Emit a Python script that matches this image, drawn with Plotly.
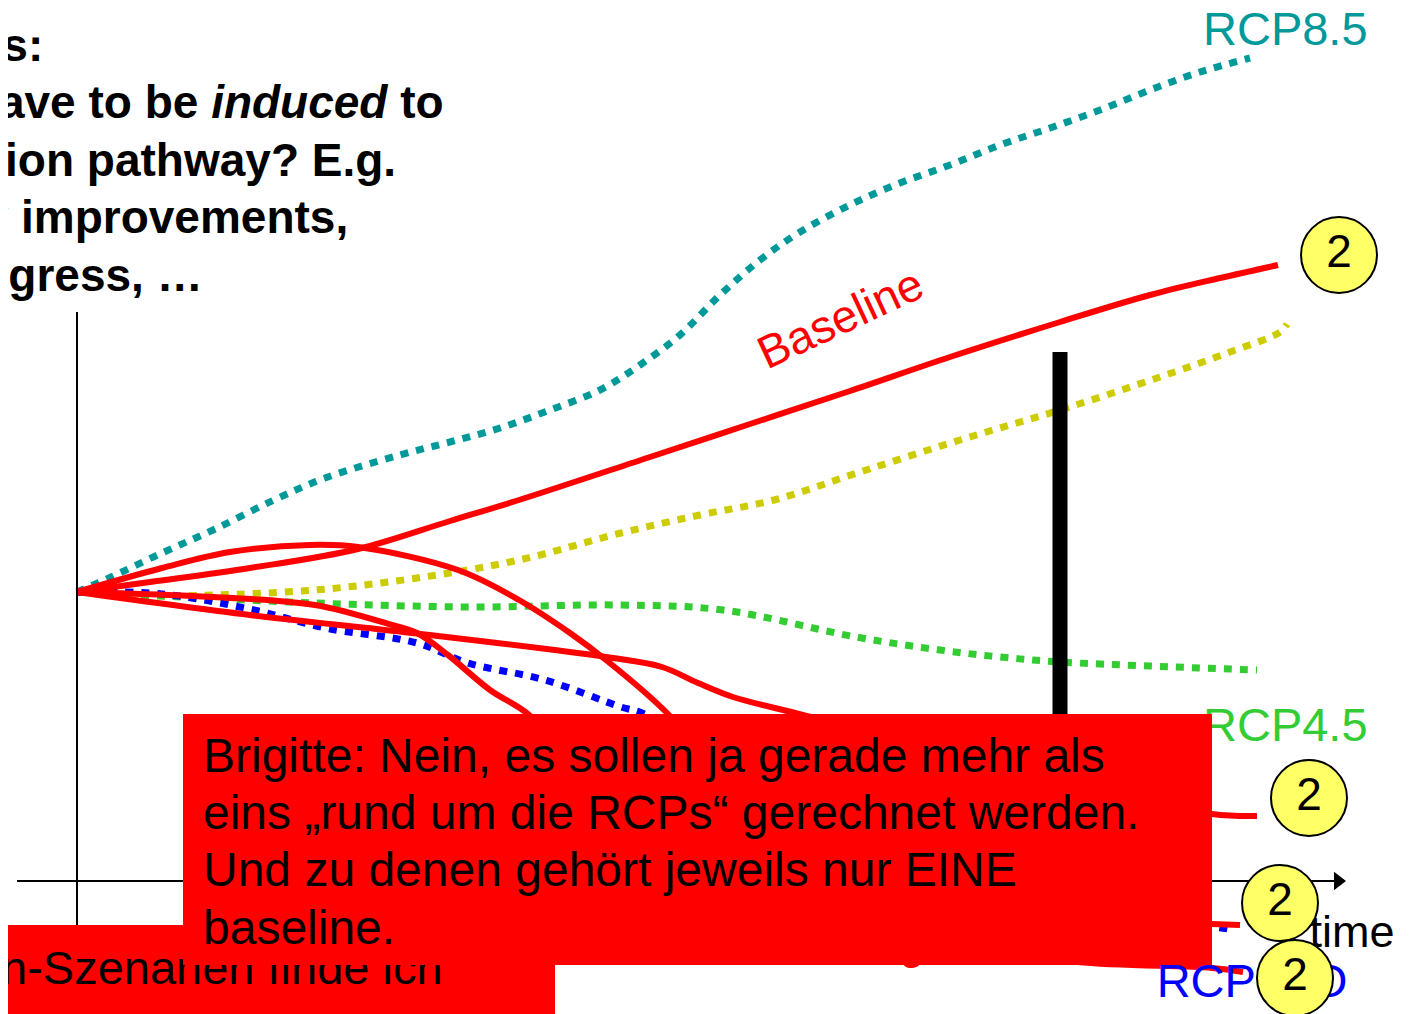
import plotly.graph_objects as go

# --- curves (x = time, y = emissions, slide units, y grows downward)
RCP85_X = [77, 111, 162, 213, 274, 325, 400, 450, 500, 550, 600, 640, 680, 720, 760, 800, 850, 900, 950, 1000, 1050, 1100, 1150, 1200, 1250]
RCP85_Y = [592, 577, 553, 530, 500, 478, 455, 442, 428, 410, 390, 365, 335, 295, 260, 232, 205, 183, 165, 145, 128, 110, 90, 72, 58]

YELLOW_X = [77, 160, 213, 315, 417, 519, 621, 700, 774, 860, 960, 1060, 1160, 1230, 1280, 1287]
YELLOW_Y = [592, 596, 595, 590, 578, 560, 533, 515, 500, 472, 440, 410, 377, 352, 332, 324]

RCP45_X = [77, 162, 315, 468, 621, 723, 856, 940, 1000, 1060, 1150, 1257]
RCP45_Y = [592, 596, 603, 607, 605, 610, 637, 650, 657, 662, 666, 670]

RCP3PD_X = [77, 162, 254, 325, 417, 468, 545, 621, 642, 800, 1000, 1150, 1235]
RCP3PD_Y = [592, 594, 610, 628, 643, 663, 680, 707, 713, 790, 870, 915, 930]

BASE_X = [77, 150, 250, 358, 450, 519, 650, 750, 850, 950, 1060, 1150, 1220, 1278]
BASE_Y = [592, 582, 568, 549, 521, 500, 457, 424, 391, 357, 322, 295, 278, 265]

MIT_A_X = [77, 162, 230, 310, 358, 458, 519, 570, 606, 667, 760, 860, 960, 1077, 1212, 1243]
MIT_A_Y = [592, 568, 552, 545, 547, 570, 600, 633, 660, 713, 820, 910, 945, 962, 968, 972]

MIT_B_X = [77, 213, 315, 392, 417, 448, 490, 528, 570, 640, 800, 1000, 1212, 1240]
MIT_B_Y = [592, 597, 605, 625, 633, 655, 690, 714, 760, 815, 885, 915, 924, 925]

MIT_C_X = [77, 250, 412, 606, 662, 698, 733, 795, 900, 1100, 1212, 1257]
MIT_C_Y = [592, 615, 633, 657, 667, 683, 697, 713, 740, 790, 814, 816]

# black marker bar, axes
BAR_X = [1060, 1060]
BAR_Y = [352, 760]
YAXIS_X = [77, 77, None, 77, 77]
YAXIS_Y = [0, 6, None, 312, 1014]
XAXIS_X = [17, 1335]
XAXIS_Y = [881, 881]

# numbered circles
CIRCLE_X = [1339, 1309, 1280, 1295]
CIRCLE_Y = [255, 798, 903, 978]
CIRCLE_TXT = ["2", "2", "2", "2"]

TEAL = "#009999"
YELLOW = "#CCCC00"
GREEN = "#33CC33"
BLUE = "#0000FF"
RED = "#FF0000"
FONT = "Liberation Sans, Arial, sans-serif"

# the page body adds an 8px margin, so the slide frame starts 8 units in
OFFSET = 8

fig = go.Figure()

dotted = dict(width=7, dash="8px,8px")
for xs, ys, col in [(RCP85_X, RCP85_Y, TEAL), (YELLOW_X, YELLOW_Y, YELLOW),
                    (RCP45_X, RCP45_Y, GREEN), (RCP3PD_X, RCP3PD_Y, BLUE)]:
    fig.add_trace(go.Scatter(x=xs, y=ys, mode="lines", line=dict(color=col, shape="spline", **dotted)))

for xs, ys in [(MIT_C_X, MIT_C_Y), (MIT_B_X, MIT_B_Y), (MIT_A_X, MIT_A_Y), (BASE_X, BASE_Y)]:
    fig.add_trace(go.Scatter(x=xs, y=ys, mode="lines", line=dict(color=RED, width=6, shape="spline")))

fig.add_trace(go.Scatter(x=BAR_X, y=BAR_Y, mode="lines", line=dict(color="black", width=15)))
fig.add_trace(go.Scatter(x=YAXIS_X, y=YAXIS_Y, mode="lines", line=dict(color="black", width=2)))
fig.add_trace(go.Scatter(x=XAXIS_X, y=XAXIS_Y, mode="lines", line=dict(color="black", width=2)))
fig.add_trace(go.Scatter(x=[1338], y=[881], mode="markers",
                         marker=dict(symbol="triangle-right", size=16, color="black")))

# labels that sit under the circles
fig.add_trace(go.Scatter(x=[1252], y=[985], mode="text", text=["RCP3PD"],
                         textfont=dict(family=FONT, size=47, color=BLUE)))
fig.add_trace(go.Scatter(x=[1352], y=[936], mode="text", text=["time"],
                         textfont=dict(family=FONT, size=45, color="black")))
fig.add_trace(go.Scatter(x=[912], y=[948], mode="text", text=["g"],
                         textfont=dict(family=FONT, size=44, color=RED)))

fig.add_trace(go.Scatter(
    x=CIRCLE_X, y=CIRCLE_Y, mode="markers+text", text=CIRCLE_TXT, textposition="middle center",
    marker=dict(size=76, color="#FFFF66", line=dict(color="black", width=2)),
    textfont=dict(family=FONT, size=46, color="black"),
))

annotations = []

# question text at the top left (cut at the slide edge)
QUESTION = [
    ("<b>Questions:</b>", 45, 45),
    ("<b>What would have to be <i>induced</i> to</b>", 446, 102),
    ("<b>reach the mitigation pathway? E.g.</b>", 398, 160),
    ("<b>efficiency improvements,</b>", 350, 217),
    ("<b>technological progress, …</b>", 205, 275),
]
for txt, xr, yc in QUESTION:
    annotations.append(dict(x=xr, y=yc, text=txt, xanchor="right", yanchor="middle", showarrow=False,
                            font=dict(family=FONT, size=46, color="black")))

annotations += [
    dict(x=1285, y=28, text="RCP8.5", showarrow=False, font=dict(family=FONT, size=47, color=TEAL)),
    dict(x=1285, y=724, text="RCP4.5", showarrow=False, font=dict(family=FONT, size=47, color=GREEN)),
    dict(x=840, y=318, text="Baseline", textangle=-25, showarrow=False,
         font=dict(family=FONT, size=46, color=RED)),
]

# second comment box (under the first one)
COMMENT2 = [("Mitigation-Szenarien finde ich", 445, 967), ("doch nicht eins? Oder was soll", 478, 1024)]
for txt, xr, yc in COMMENT2:
    annotations.append(dict(x=xr, y=yc, text=txt, xanchor="right", yanchor="middle", showarrow=False,
                            font=dict(family=FONT, size=47, color="black")))

# main comment box
annotations.append(dict(x=183, y=714, xanchor="left", yanchor="top", text=" ", showarrow=False,
                        width=1029, height=251, bgcolor=RED, borderpad=0, borderwidth=0))
COMMENT1 = [
    "Brigitte: Nein, es sollen ja gerade mehr als",
    "eins „rund um die RCPs“ gerechnet werden.",
    "Und zu denen gehört jeweils nur EINE",
    "baseline.",
]
COMMENT1_Y = [755, 812, 869, 927]
for txt, yc in zip(COMMENT1, COMMENT1_Y):
    annotations.append(dict(x=201, y=yc, text=txt, xanchor="left", yanchor="middle", showarrow=False,
                            font=dict(family=FONT, size=48, color="black")))

fig.update_layout(
    width=1409,
    height=1014,
    margin=dict(l=0, r=0, t=0, b=0),
    paper_bgcolor="white",
    plot_bgcolor="white",
    showlegend=False,
    xaxis=dict(range=[OFFSET, 1409 + OFFSET], visible=False, fixedrange=True),
    yaxis=dict(range=[1014 + OFFSET, OFFSET], visible=False, fixedrange=True),
    shapes=[dict(type="rect", x0=-10, x1=555, y0=925, y1=1030, fillcolor=RED,
                 line=dict(width=0), layer="above")],
    annotations=annotations,
)

fig.write_html("out.html")
